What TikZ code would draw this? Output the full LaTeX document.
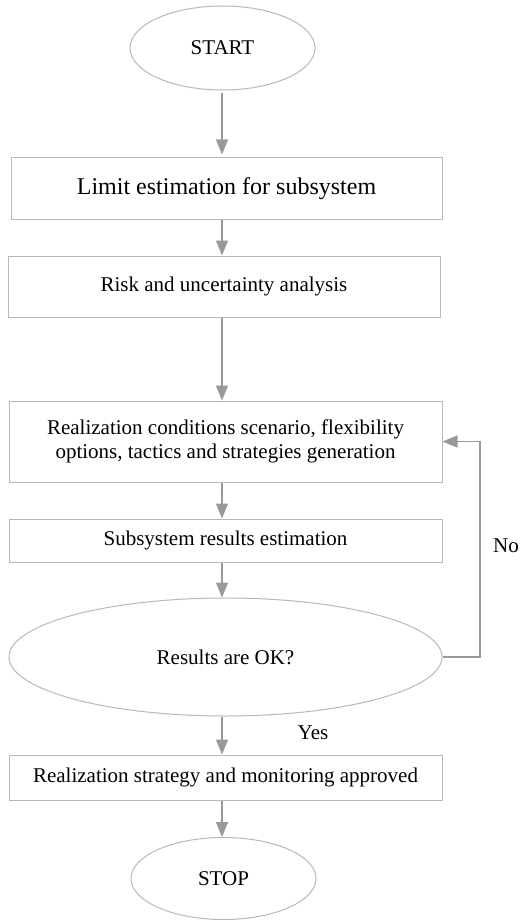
\documentclass[tikz,border=0pt]{standalone}
\usepackage{fontspec}
\setmainfont{Liberation Serif}
\usetikzlibrary{shapes.geometric,arrows.meta}
\begin{document}
\begin{tikzpicture}[x=1pt,y=-1pt,
  boxline/.style={draw=black!28,line width=1pt},
  stepbox/.style={boxline,rectangle,inner sep=0pt,align=center,font=\fontsize{21}{24}\selectfont},
  oval/.style={boxline,ellipse,inner sep=0pt,font=\fontsize{21}{24}\selectfont},
  arr/.style={draw=black!40,line width=1.2pt,-{Triangle[length=15pt,width=12pt]}},
  lbl/.style={inner sep=0pt,font=\fontsize{21}{24}\selectfont}]
\useasboundingbox (0,0) rectangle (520,920);
\node[oval,minimum width=185,minimum height=84] (start) at (222.5,48) {START};
\node[stepbox,minimum width=431,minimum height=61,font=\fontsize{24}{28}\selectfont] (b1) at (226.5,188.5) {Limit estimation for subsystem};
\node[stepbox,minimum width=432,minimum height=61] (b2) at (224,286.5) {Risk and uncertainty analysis};
\node[stepbox,minimum width=433,minimum height=81] (b3) at (225.5,441.5) {Realization conditions scenario, flexibility\\options, tactics and strategies generation};
\node[stepbox,minimum width=433,minimum height=43] (b4) at (225.5,540.5) {Subsystem results estimation};
\node[oval,minimum width=433,minimum height=118] (dec) at (225.5,657) {Results are OK?};
\node[stepbox,minimum width=433,minimum height=45] (b5) at (225.5,777.5) {Realization strategy and monitoring approved};
\node[oval,minimum width=185,minimum height=82] (stop) at (223.5,878.5) {STOP};
\node[lbl,anchor=west] (no) at (493,546) {No};
\node[lbl] (yes) at (313,733) {Yes};
\coordinate (ax) at (222,0);
\draw[arr,shorten <=3pt,shorten >=3pt] (start.south -| ax) -- (b1.north -| ax);
\draw[arr] (b1.south -| ax) -- (b2.north -| ax);
\draw[arr] (b2.south -| ax) -- (b3.north -| ax);
\draw[arr] (b3.south -| ax) -- (b4.north -| ax);
\draw[arr] (b4.south -| ax) -- (dec.north -| ax);
\draw[arr] (dec.south -| ax) -- (b5.north -| ax);
\draw[arr] (b5.south -| ax) -- (stop.north -| ax);
\coordinate (loopx) at (480,0);
\draw[arr] (dec.east) -- (dec.east -| loopx) -- (b3.east -| loopx) -- (b3.east);
\end{tikzpicture}
\end{document}
